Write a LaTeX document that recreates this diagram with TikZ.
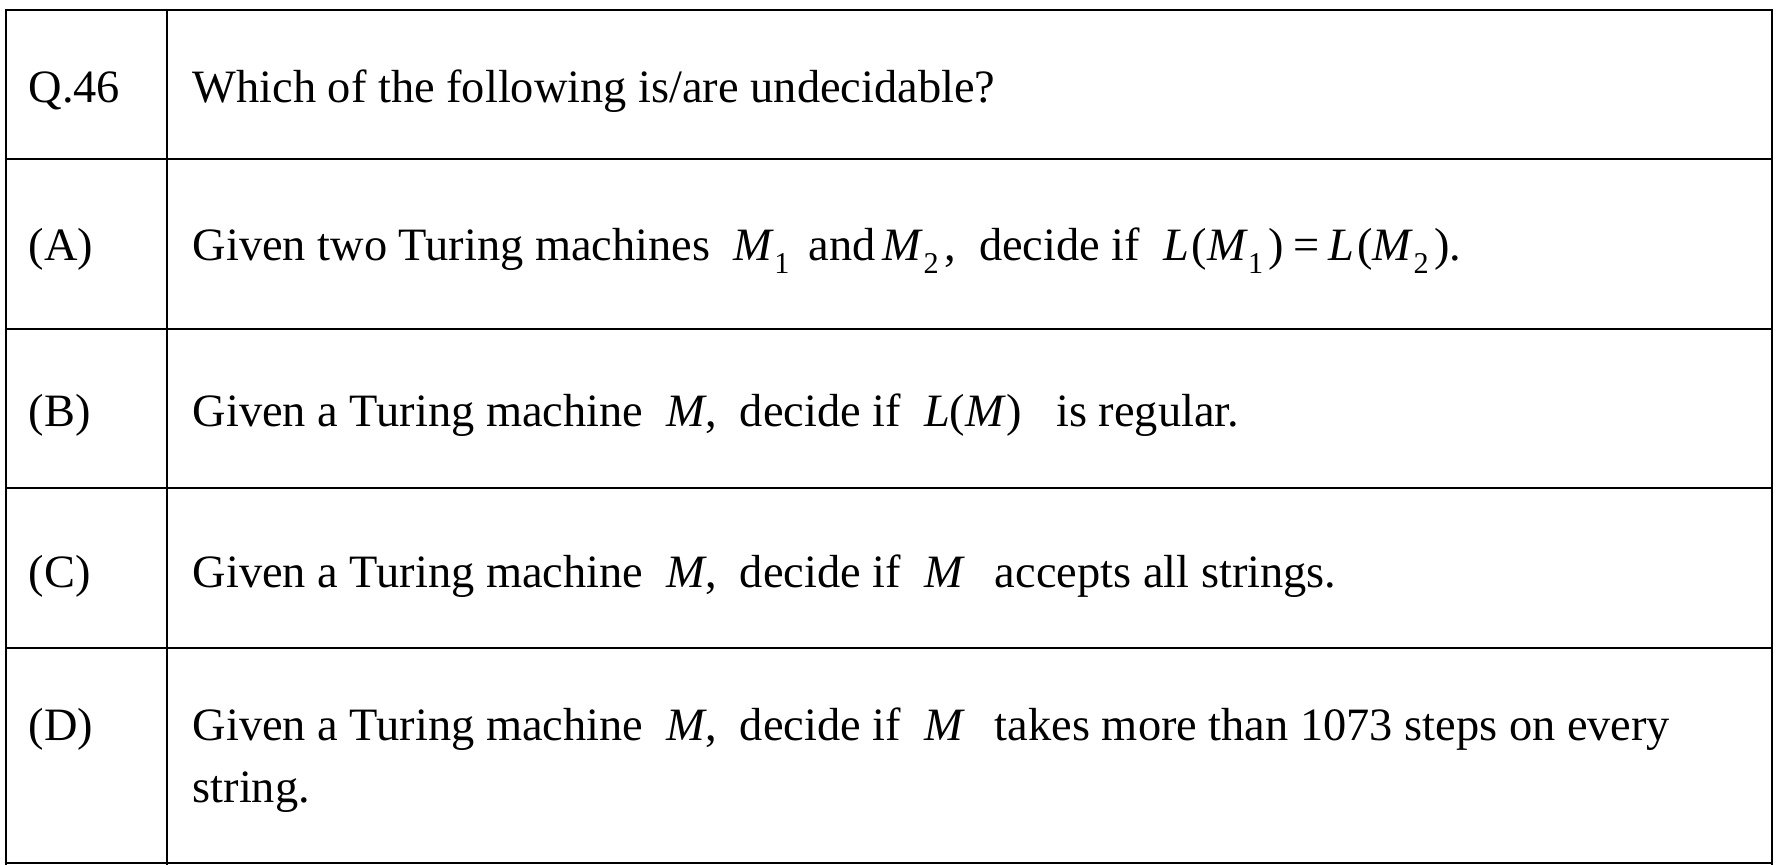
\documentclass[tikz,border=0pt]{standalone}
\usepackage{fontspec}
\setmainfont{Liberation Serif}
\usetikzlibrary{positioning}

\newcommand{\tmv}[1]{\textit{#1}}
\newcommand{\tmsub}[1]{\raisebox{-0.3em}{\fontsize{8.6}{9}\selectfont #1}\hspace{0.12em}}
\newcommand{\qgap}{\hspace{0.5em}}

\begin{document}
\begin{tikzpicture}[x=0.1mm, y=-0.1mm,
    rule/.style={line width=0.6pt, line cap=rect},
    lbl/.style={anchor=base west, inner sep=0pt, font=\fontsize{13.2}{17.6}\selectfont},
    txt/.style={anchor=base west, inner sep=0pt, font=\fontsize{13.2}{17.6}\selectfont}
]
    \useasboundingbox (0,0) rectangle (1779,865);
    % table rules
    \foreach \y in {10,159,329,488,648,863}
        \draw[rule] (6,\y) -- (1772,\y);
    \foreach \x in {6,167,1772}
        \draw[rule] (\x,10) -- (\x,865);

    \node[lbl] (q) at (28,102) {Q.46};
    \node[txt] (qtext) at (192,102) {Which of the following is/are undecidable?};

    \node[lbl] (a) at (28,260) {(A)};
    \node[txt] (atext) at (192,260) {Given two Turing machines\qgap\tmv{M}\tmsub{1}\hspace{0.3em}and\hspace{0.15em}\tmv{M}\tmsub{2},\qgap decide if\qgap\tmv{L}\hspace{0.06em}(\tmv{M}\tmsub{1})\hspace{0.2em}=\hspace{0.2em}\tmv{L}\hspace{0.06em}(\tmv{M}\tmsub{2}).};

    \node[lbl] (b) at (28,426) {(B)};
    \node[txt] (btext) at (192,426) {Given a Turing machine\qgap\tmv{M},\qgap decide if\qgap\tmv{L}(\tmv{M})\hspace{0.75em}is regular.};

    \node[lbl] (c) at (28,587) {(C)};
    \node[txt] (ctext) at (192,587) {Given a Turing machine\qgap\tmv{M},\qgap decide if\qgap\tmv{M}\hspace{0.65em}accepts all strings.};

    \node[lbl] (d) at (28,740) {(D)};
    \node[txt] (dtext) at (192,740) {Given a Turing machine\qgap\tmv{M},\qgap decide if\qgap\tmv{M}\hspace{0.65em}takes more than 1073 steps on every};
    \node[txt] (dtext2) at (192,802) {string.};
\end{tikzpicture}
\end{document}
